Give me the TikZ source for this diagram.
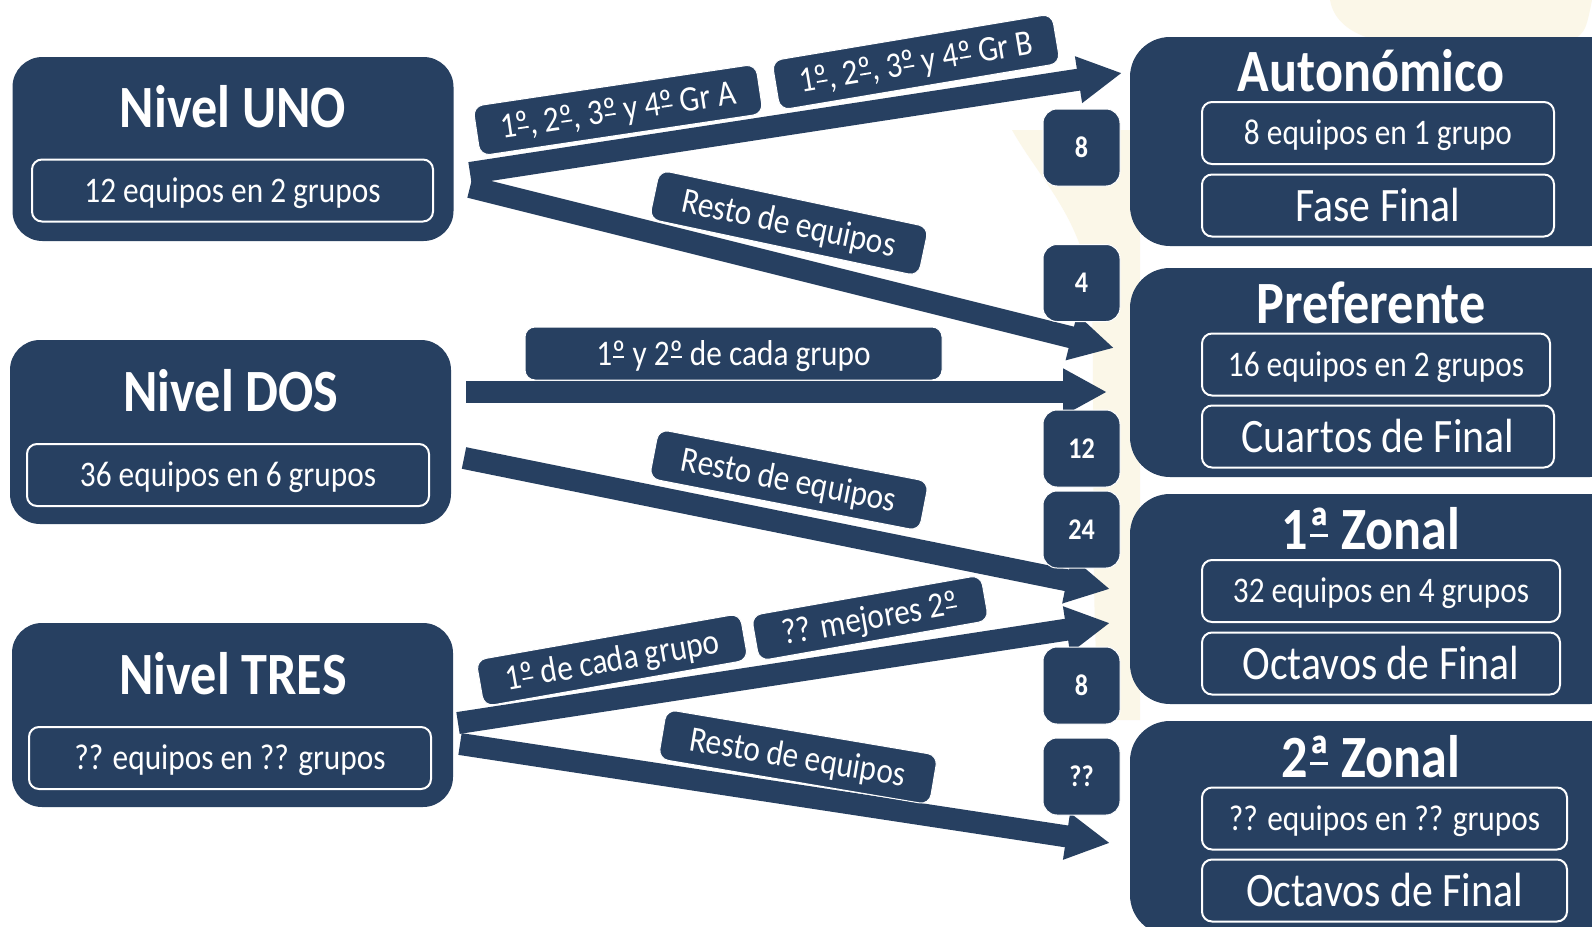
\documentclass[tikz,border=0pt]{standalone}
\usepackage{fontspec}
\setmainfont{Carlito}[FakeStretch=0.87]
\usetikzlibrary{arrows.meta}
\definecolor{azul}{RGB}{39,64,97}
\definecolor{crema}{RGB}{251,247,232}
% ordinales subrayados
\newcommand{\ordo}{\ooalign{º\cr\hfil\rule[0.2em]{0.3em}{0.05em}\hfil}}
\newcommand{\orda}{\ooalign{ª\cr\hfil\rule[0.2em]{0.3em}{0.05em}\hfil}}

\tikzset{
  nivel/.style={fill=azul, rounded corners=30pt, minimum width=441pt, minimum height=184pt, inner sep=0pt},
  categoria/.style={fill=azul, rounded corners=40pt, minimum width=500pt, inner sep=0pt},
  titulo/.style={text=white, font=\bfseries\fontsize{60}{60}\selectfont, anchor=base, inner sep=0pt},
  caja/.style={draw=white, line width=2pt, rounded corners=10pt, text=white, font=\fontsize{36}{36}\selectfont, text height=23pt, text depth=0pt, minimum height=62pt, inner sep=0pt},
  fase/.style={caja, font=\fontsize{48}{48}\selectfont, text height=31pt},
  numero/.style={fill=azul, draw=white, line width=1pt, rounded corners=14pt, minimum width=77pt, minimum height=77pt, inner sep=0pt, text=white, font=\bfseries\fontsize{30}{30}\selectfont, text height=19pt, text depth=0pt},
  etiqueta/.style={fill=azul, draw=white, line width=1pt, rounded corners=10pt, text=white, font=\fontsize{36}{36}\selectfont, text height=23pt, text depth=0pt, minimum height=50pt, inner sep=0pt},
  flecha/.style={azul, line width=22pt, -{Triangle[length=44pt, width=44pt]}}
}

\begin{document}
\begin{tikzpicture}[x=1pt, y=-1pt]
    \useasboundingbox (0,0) rectangle (1592,926);
    \fill[white] (0,0) rectangle (1592,926);
    \clip (0,0) rectangle (1592,926);
    % fondo
    \fill[crema] (1330,0) .. controls (1335,30) and (1370,45) .. (1420,45) -- (1560,45) .. controls (1585,35) .. (1592,0) -- cycle;
    \fill[crema] (1012,130) .. controls (1040,180) and (1085,220) .. (1092,300) .. controls (1095,450) and (1090,600) .. (1100,720) -- (1140,720) -- (1140,130) -- cycle;

    % niveles
    \node[nivel] (uno) at (233,149) {};
    \node[titulo] (unoT) at (233,127) {Nivel UNO};
    \node[caja, minimum width=401pt] (unoE) at (232.5,190.5) {12 equipos en 2 grupos};
    \node[nivel] (dos) at (230.5,432) {};
    \node[titulo] (dosT) at (231,411) {Nivel DOS};
    \node[caja, minimum width=402pt] (dosE) at (228,475) {36 equipos en 6 grupos};
    \node[nivel] (tres) at (232.5,715) {};
    \node[titulo] (tresT) at (233,694) {Nivel TRES};
    \node[caja, minimum width=402pt] (tresE) at (230,758) {?? equipos en ?? grupos};

    % categorias
    \node[categoria, minimum height=209pt] (aut) at (1380,141.5) {};
    \node[titulo] (autT) at (1371,91) {Autonómico};
    \node[caja, minimum width=352pt] (autE) at (1378,133) {8 equipos en 1 grupo};
    \node[fase, minimum width=352pt] (autF) at (1378,205.5) {Fase Final};
    \node[categoria, minimum height=209pt] (pref) at (1380,372.5) {};
    \node[titulo] (prefT) at (1371,323) {Preferente};
    \node[caja, minimum width=348pt] (prefE) at (1376,364.5) {16 equipos en 2 grupos};
    \node[fase, minimum width=352pt] (prefF) at (1378,436.5) {Cuartos de Final};
    \node[categoria, minimum height=210pt] (zon1) at (1380,599) {};
    \node[titulo] (zon1T) at (1371,549) {1\orda{} Zonal};
    \node[caja, minimum width=358pt] (zon1E) at (1381,591) {32 equipos en 4 grupos};
    \node[fase, minimum width=358pt] (zon1F) at (1381,663.5) {Octavos de Final};
    \node[categoria, minimum height=214pt] (zon2) at (1380,828) {};
    \node[titulo] (zon2T) at (1371,777) {2\orda{} Zonal};
    \node[caja, minimum width=365pt] (zon2E) at (1384.5,818.5) {?? equipos en ?? grupos};
    \node[fase, minimum width=365pt] (zon2F) at (1384.5,890.5) {Octavos de Final};

    % flechas
    \coordinate (unoA) at (470,173);
    \coordinate (unoB) at (470,187);
    \coordinate (dosA) at (466,392);
    \coordinate (dosB) at (464,458);
    \coordinate (tresA) at (458,723);
    \coordinate (tresB) at (460,744);
    \coordinate (autP) at (1122,73);
    \coordinate (prefP) at (1114,348);
    \coordinate (prefQ) at (1107,392);
    \coordinate (zon1P) at (1110,589);
    \coordinate (zon1Q) at (1110,623);
    \coordinate (zon2P) at (1110,843);
    \draw[flecha] (unoA) -- (autP);
    \draw[flecha] (unoB) -- (prefP);
    \draw[flecha] (dosA) -- (prefQ);
    \draw[flecha] (dosB) -- (zon1P);
    \draw[flecha] (tresA) -- (zon1Q);
    \draw[flecha] (tresB) -- (zon2P);

    % cantidades
    \node[numero] (n1) at (1081.5,147.5) {8};
    \node[numero] (n2) at (1081.5,283) {4};
    \node[numero] (n3) at (1081.5,448.5) {12};
    \node[numero] (n4) at (1081.5,529.5) {24};
    \node[numero] (n5) at (1081.5,685.5) {8};
    \node[numero] (n6) at (1081.5,776.5) {??};

    % etiquetas
    \node[etiqueta, minimum width=286pt, rotate=8.5] (e1) at (618,110) {1\ordo, 2\ordo, 3\ordo{} y 4\ordo{} Gr A};
    \node[etiqueta, minimum width=284pt, rotate=9.5] (e2) at (916,62) {1\ordo, 2\ordo, 3\ordo{} y 4\ordo{} Gr B};
    \node[etiqueta, minimum width=275pt, rotate=-12] (e3) at (789,223) {Resto de equipos};
    \node[etiqueta, minimum width=417pt, minimum height=53pt] (e4) at (733.5,353.5) {1\ordo{} y 2\ordo{} de cada grupo};
    \node[etiqueta, minimum width=275pt, rotate=-11] (e5) at (789,480) {Resto de equipos};
    \node[etiqueta, minimum width=268pt, minimum height=47pt, rotate=10] (e6) at (612,660) {1\ordo{} de cada grupo};
    \node[etiqueta, minimum width=233pt, minimum height=46pt, rotate=10] (e7) at (870,618) {?? mejores 2\ordo};
    \node[etiqueta, minimum width=275pt, rotate=-9.6] (e8) at (798,757) {Resto de equipos};
\end{tikzpicture}
\end{document}
